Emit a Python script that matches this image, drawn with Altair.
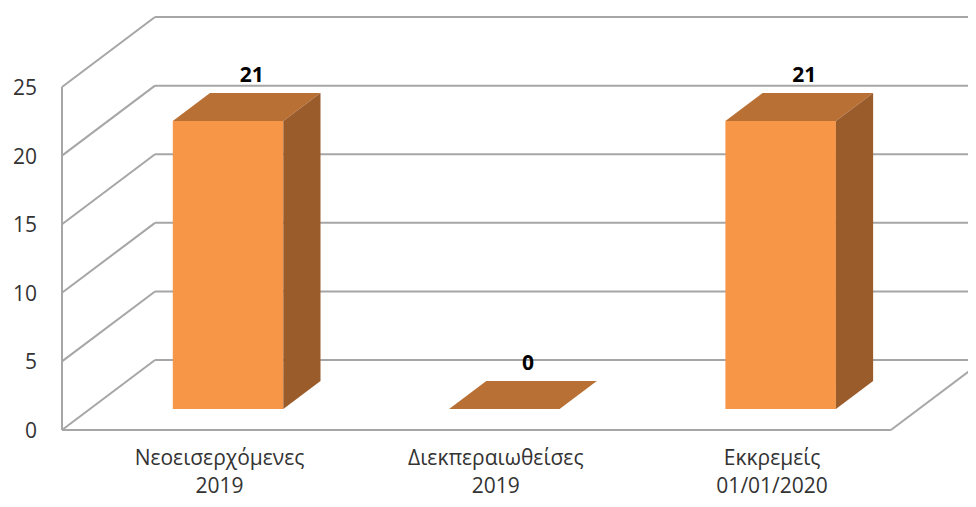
import altair as alt
import pandas as pd

# ---- data ----
categories = ["Νεοεισερχόμενες 2019", "Διεκπεραιωθείσες 2019", "Εκκρεμείς 01/01/2020"]
values = [21, 0, 21]
y_ticks = [0, 5, 10, 15, 20, 25]

# ---- oblique 3D projection (category units / value units) ----
KX = 0.3366   # horizontal shift of full depth, in category units
KY = 5.1      # vertical shift of full depth, in value units
HALF = 0.2    # half bar width, category units
D0, D1 = 0.3, 0.7  # bar depth range
N = len(categories)
XMIN, XMAX = -0.5, 2.779
YMIN, YMAX = 0.0, 30.758


def px(c, d):
    return c + KX * d


def py(v, d):
    return v + KY * d


xs = alt.Scale(domain=[XMIN, XMAX], nice=False, zero=False)
ys = alt.Scale(domain=[YMIN, YMAX], nice=False, zero=False)
GRID = "#A6A6A6"
FONT = "Open Sans"

# back wall gridlines
back = pd.DataFrame({"x": [px(XMIN, 1)] * len(y_ticks), "x2": [XMAX] * len(y_ticks),
                     "y": [py(t, 1) for t in y_ticks]})
# side wall diagonals
diag = pd.DataFrame({"x": [XMIN] * len(y_ticks), "y": y_ticks,
                     "x2": [px(XMIN, 1)] * len(y_ticks), "y2": [py(t, 1) for t in y_ticks]})
# frame lines: front left edge, floor front edge, floor right edge
frame = pd.DataFrame({
    "x": [XMIN, XMIN, N - 0.5],
    "y": [0, 0, 0],
    "x2": [XMIN, N - 0.5, px(N - 0.5, 1)],
    "y2": [max(y_ticks), 0, py(0, 1)],
})

enc_rule = dict(
    x=alt.X("x:Q", scale=xs, axis=None),
    x2="x2:Q",
    y=alt.Y("y:Q", scale=ys, axis=None),
)

l_back = alt.Chart(back).mark_rule(color=GRID, strokeWidth=2).encode(**enc_rule)
l_diag = alt.Chart(diag).mark_rule(color=GRID, strokeWidth=2).encode(**enc_rule, y2="y2:Q")
l_frame = alt.Chart(frame).mark_rule(color=GRID, strokeWidth=2).encode(**enc_rule, y2="y2:Q")

# bar faces
front = pd.DataFrame({
    "bar": categories,
    "x": [px(i - HALF, D0) for i in range(N)],
    "x2": [px(i + HALF, D0) for i in range(N)],
    "y": [py(0, D0)] * N,
    "y2": [py(v, D0) for v in values],
})
top_rows = []
side_rows = []
for i, (c, v) in enumerate(zip(categories, values)):
    for d in (D0, D1):
        top_rows.append({"bar": c, "y": py(v, d), "x": px(i - HALF, d), "x2": px(i + HALF, d)})
        side_rows.append({"bar": c, "x": px(i + HALF, d), "y": py(0, d), "y2": py(v, d)})
top = pd.DataFrame(top_rows)
side = pd.DataFrame(side_rows)

l_front = alt.Chart(front).mark_rect(color="#F79646").encode(
    x=alt.X("x:Q", scale=xs, axis=None), x2="x2:Q",
    y=alt.Y("y:Q", scale=ys, axis=None), y2="y2:Q")
l_top = alt.Chart(top).mark_area(orient="horizontal", color="#B97035").encode(
    y=alt.Y("y:Q", scale=ys, axis=None),
    x=alt.X("x:Q", scale=xs, axis=None), x2="x2:Q",
    detail="bar:N")
l_side = alt.Chart(side).mark_area(orient="vertical", color="#9B5C2C").encode(
    x=alt.X("x:Q", scale=xs, axis=None),
    y=alt.Y("y:Q", scale=ys, axis=None), y2="y2:Q",
    detail="bar:N")

# value labels
vlab = pd.DataFrame({
    "x": [px(i, 0.5) for i in range(N)],
    "y": [py(v, 0.5) for v in values],
    "t": [str(v) for v in values],
})
l_vlab = alt.Chart(vlab).mark_text(font=FONT, fontSize=21, fontWeight="bold", color="#000000",
                                    dx=5, dy=-31, baseline="middle", align="center").encode(
    x=alt.X("x:Q", scale=xs, axis=None), y=alt.Y("y:Q", scale=ys, axis=None), text="t:N")

# category labels
clab = pd.DataFrame({"x": [i + 0.07 for i in range(N)], "y": [-1.30] * N, "t": categories})
l_clab = alt.Chart(clab).mark_text(font=FONT, fontSize=21, color="#333333", lineBreak=" ",
                                    lineHeight=28, baseline="top", align="center").encode(
    x=alt.X("x:Q", scale=xs, axis=None), y=alt.Y("y:Q", scale=ys, axis=None), text="t:N")

# y tick labels
ylab = pd.DataFrame({"x": [XMIN] * len(y_ticks), "y": y_ticks, "t": [str(t) for t in y_ticks]})
l_ylab = alt.Chart(ylab).mark_text(font=FONT, fontSize=21, color="#333333", align="right",
                                    baseline="middle", dx=-25, dy=2).encode(
    x=alt.X("x:Q", scale=xs, axis=None), y=alt.Y("y:Q", scale=ys, axis=None), text="t:N")

chart = alt.layer(l_back, l_diag, l_frame, l_front, l_top, l_side, l_vlab, l_clab, l_ylab).properties(
    width=906, height=422,
    autosize=alt.AutoSizeParams(type="none"),
    padding={"left": 54, "top": 0, "right": 0, "bottom": 69},
    background="#FFFFFF",
).configure_view(stroke="transparent")

chart.save("out.html", embed_options={"renderer": "svg", "actions": False})
